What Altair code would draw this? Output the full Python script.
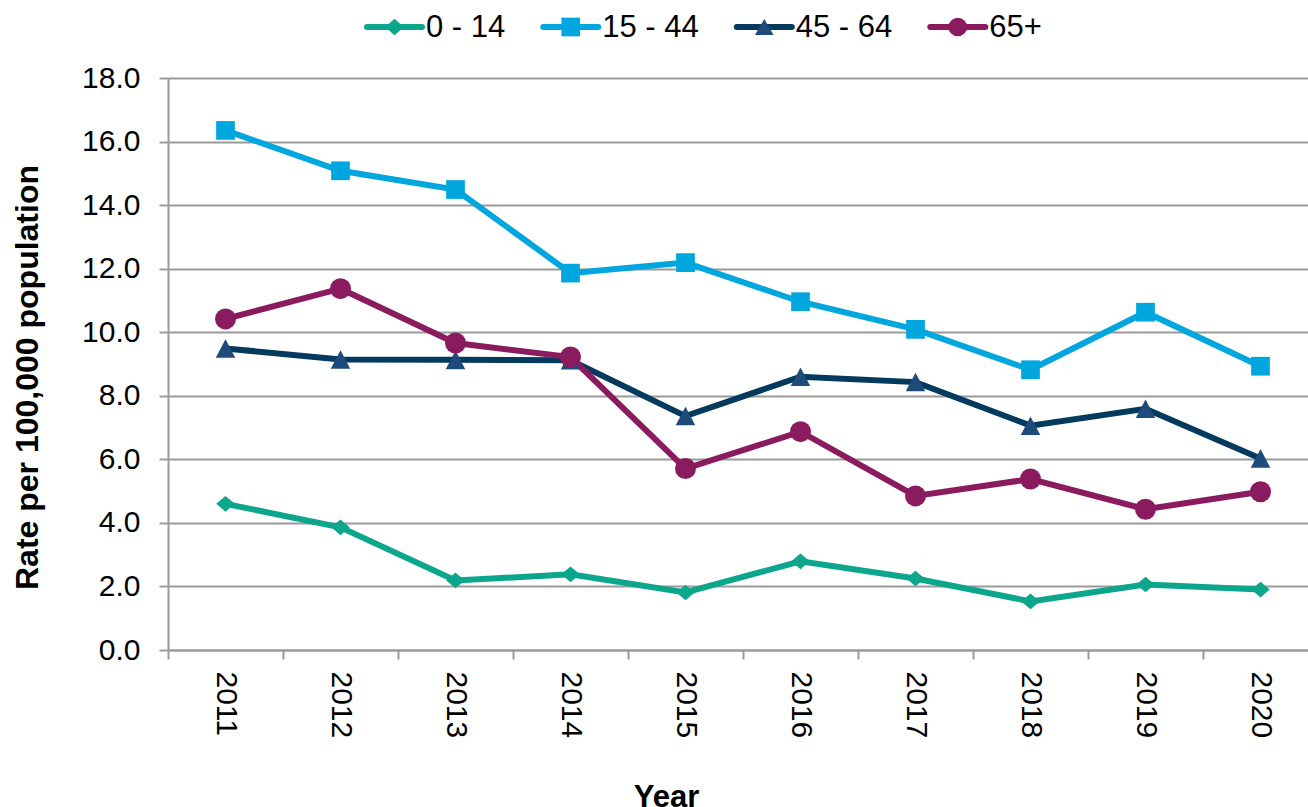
import altair as alt
import pandas as pd

# Rates per 100,000 population by age band
years = [2011, 2012, 2013, 2014, 2015, 2016, 2017, 2018, 2019, 2020]
groups = ["0 - 14", "15 - 44", "45 - 64", "65+"]
rate_0_14 = [4.60, 3.86, 2.19, 2.38, 1.81, 2.79, 2.25, 1.53, 2.06, 1.90]
rate_15_44 = [16.35, 15.08, 14.49, 11.86, 12.19, 10.96, 10.09, 8.82, 10.63, 8.93]
rate_45_64 = [9.49, 9.14, 9.13, 9.12, 7.36, 8.60, 8.43, 7.06, 7.59, 6.03]
rate_65_plus = [10.42, 11.37, 9.66, 9.22, 5.71, 6.87, 4.85, 5.38, 4.43, 4.98]
y_ticks = [0, 2, 4, 6, 8, 10, 12, 14, 16, 18]

line_colors = ["#0BA68C", "#00A6DE", "#033A5D", "#8A1B5F"]
marker_colors = ["#0BA68C", "#00A6DE", "#1F4A7C", "#8A1B5F"]

series = [rate_0_14, rate_15_44, rate_45_64, rate_65_plus]
rows = []
for g, vals in zip(groups, series):
    for yr, v in zip(years, vals):
        rows.append({"Year": yr, "Group": g, "Rate": v})
df = pd.DataFrame(rows)

FONT = "Liberation Sans"
GRID = "#9A9A9A"
LABEL_SIZE = 30
LEGEND_SIZE = 31

# one category per 115 px band; the last band runs past the right edge
x_scale = alt.Scale(domain=[2010.5, 2020.413], nice=False, zero=False)
y_scale = alt.Scale(domain=[0, 18], nice=False)
line_color_scale = alt.Scale(domain=groups, range=line_colors)
marker_color_scale = alt.Scale(domain=groups, range=marker_colors)

y_axis = alt.Axis(
    values=y_ticks, format=".1f", grid=True, gridColor=GRID, gridWidth=2,
    domainColor=GRID, domainWidth=2, tickColor=GRID, tickWidth=2, tickSize=9,
    labelFont=FONT, labelFontSize=LABEL_SIZE, labelColor="black", labelPadding=19,
    title="Rate per 100,000 population", titleFont=FONT, titleFontSize=32,
    titleFontWeight="bold", titleColor="black", titleAngle=270,
    titleAlign="center", titleBaseline="middle", titleX=-141, titleY=299,
)
y_enc = alt.Y("Rate:Q", scale=y_scale, axis=y_axis)

# year labels centred in each band
x_label_axis = alt.Axis(
    values=years, orient="bottom", format="d", labelAngle=90,
    labelFont=FONT, labelFontSize=LABEL_SIZE, labelColor="black", labelPadding=21,
    labelFlush=False, labelOverlap=False, ticks=False, tickSize=0, grid=False,
    domain=True, domainColor=GRID, domainWidth=2,
    title="Year", titleFont=FONT, titleFontSize=31, titleFontWeight="bold",
    titleColor="black", titleX=498, titleY=156, titleAlign="center",
    titleBaseline="alphabetic",
)
# tick marks on the band boundaries
x_tick_axis = alt.Axis(
    values=[y - 0.5 for y in years], orient="bottom", labels=False,
    ticks=True, tickSize=9, tickColor=GRID, tickWidth=2, grid=False,
    domain=False, title=None,
)

lines = alt.Chart(df).mark_line(strokeWidth=6).encode(
    x=alt.X("Year:Q", scale=x_scale, axis=x_label_axis),
    y=y_enc,
    color=alt.Color("Group:N", scale=line_color_scale, legend=None),
)

marker_shapes = [
    "M 0 -0.85 L 1 0 L 0 0.85 L -1 0 Z",
    "square",
    "M 0 -0.95 L 1 0.95 L -1 0.95 Z",
    "circle",
]
marker_sizes = [340, 350, 380, 441]

markers = []
for i, g in enumerate(groups):
    markers.append(
        alt.Chart(df)
        .transform_filter(alt.datum.Group == g)
        .mark_point(shape=marker_shapes[i], size=marker_sizes[i], filled=True,
                    opacity=1, color=marker_colors[i], strokeWidth=0)
        .encode(
            x=alt.X("Year:Q", scale=x_scale, axis=x_tick_axis if i == 0 else None),
            y=y_enc,
        )
    )

# ---- legend row above the plot: line sample, marker, label ----
# approximate Arial advance widths (em) to lay the entries out one after another
ADVANCE = {" ": 0.278, "-": 0.333, "+": 0.584}
SAMPLE = 55      # length of the line sample
TEXT_GAP = 4     # sample to label
ENTRY_GAP = 38   # label to next sample
LEGEND_X0 = 199  # from the plot's left edge
LEGEND_Y = -51   # from the plot's top edge

starts = []
pos = LEGEND_X0
for g in groups:
    starts.append(pos)
    text_w = sum(ADVANCE.get(ch, 0.556) for ch in g) * LEGEND_SIZE
    pos += SAMPLE + TEXT_GAP + text_w + ENTRY_GAP

legend_df = pd.DataFrame({"Group": groups, "start": starts})
legend_base = alt.Chart(legend_df).transform_calculate(
    end=f"datum.start + {SAMPLE}",
    mid=f"datum.start + {SAMPLE / 2}",
    text_x=f"datum.start + {SAMPLE + TEXT_GAP}",
)

legend_lines = legend_base.mark_rule(strokeWidth=6, strokeCap="round").encode(
    x=alt.X("start:Q", scale=None, axis=None),
    x2="end:Q",
    y=alt.value(LEGEND_Y),
    color=alt.Color("Group:N", scale=line_color_scale, legend=None),
)

legend_marker_shapes = [
    "M 0 -0.89 L 1 0 L 0 0.89 L -1 0 Z",
    "square",
    "M 0 -0.85 L 1 0.85 L -1 0.85 Z",
    "circle",
]
legend_markers = legend_base.mark_point(filled=True, opacity=1, size=350, strokeWidth=0).encode(
    x=alt.X("mid:Q", scale=None, axis=None),
    y=alt.value(LEGEND_Y),
    fill=alt.Fill("Group:N", scale=marker_color_scale, legend=None),
    shape=alt.Shape("Group:N", scale=alt.Scale(domain=groups, range=legend_marker_shapes), legend=None),
)

legend_labels = legend_base.mark_text(
    align="left", baseline="middle", font=FONT, fontSize=LEGEND_SIZE, color="black", dy=1,
).encode(
    x=alt.X("text_x:Q", scale=None, axis=None),
    y=alt.value(LEGEND_Y),
    text="Group:N",
)

chart = (
    alt.layer(lines, *markers, legend_lines, legend_markers, legend_labels)
    .resolve_axis(x="independent")
    .resolve_scale(x="independent")
    .properties(
        width=1140, height=572, autosize="none",
        padding={"left": 168, "top": 78, "right": 0, "bottom": 157},
        background="white",
    )
    .configure_view(stroke=None)
)

chart.save("out.html", embed_options={"renderer": "svg", "actions": False})
